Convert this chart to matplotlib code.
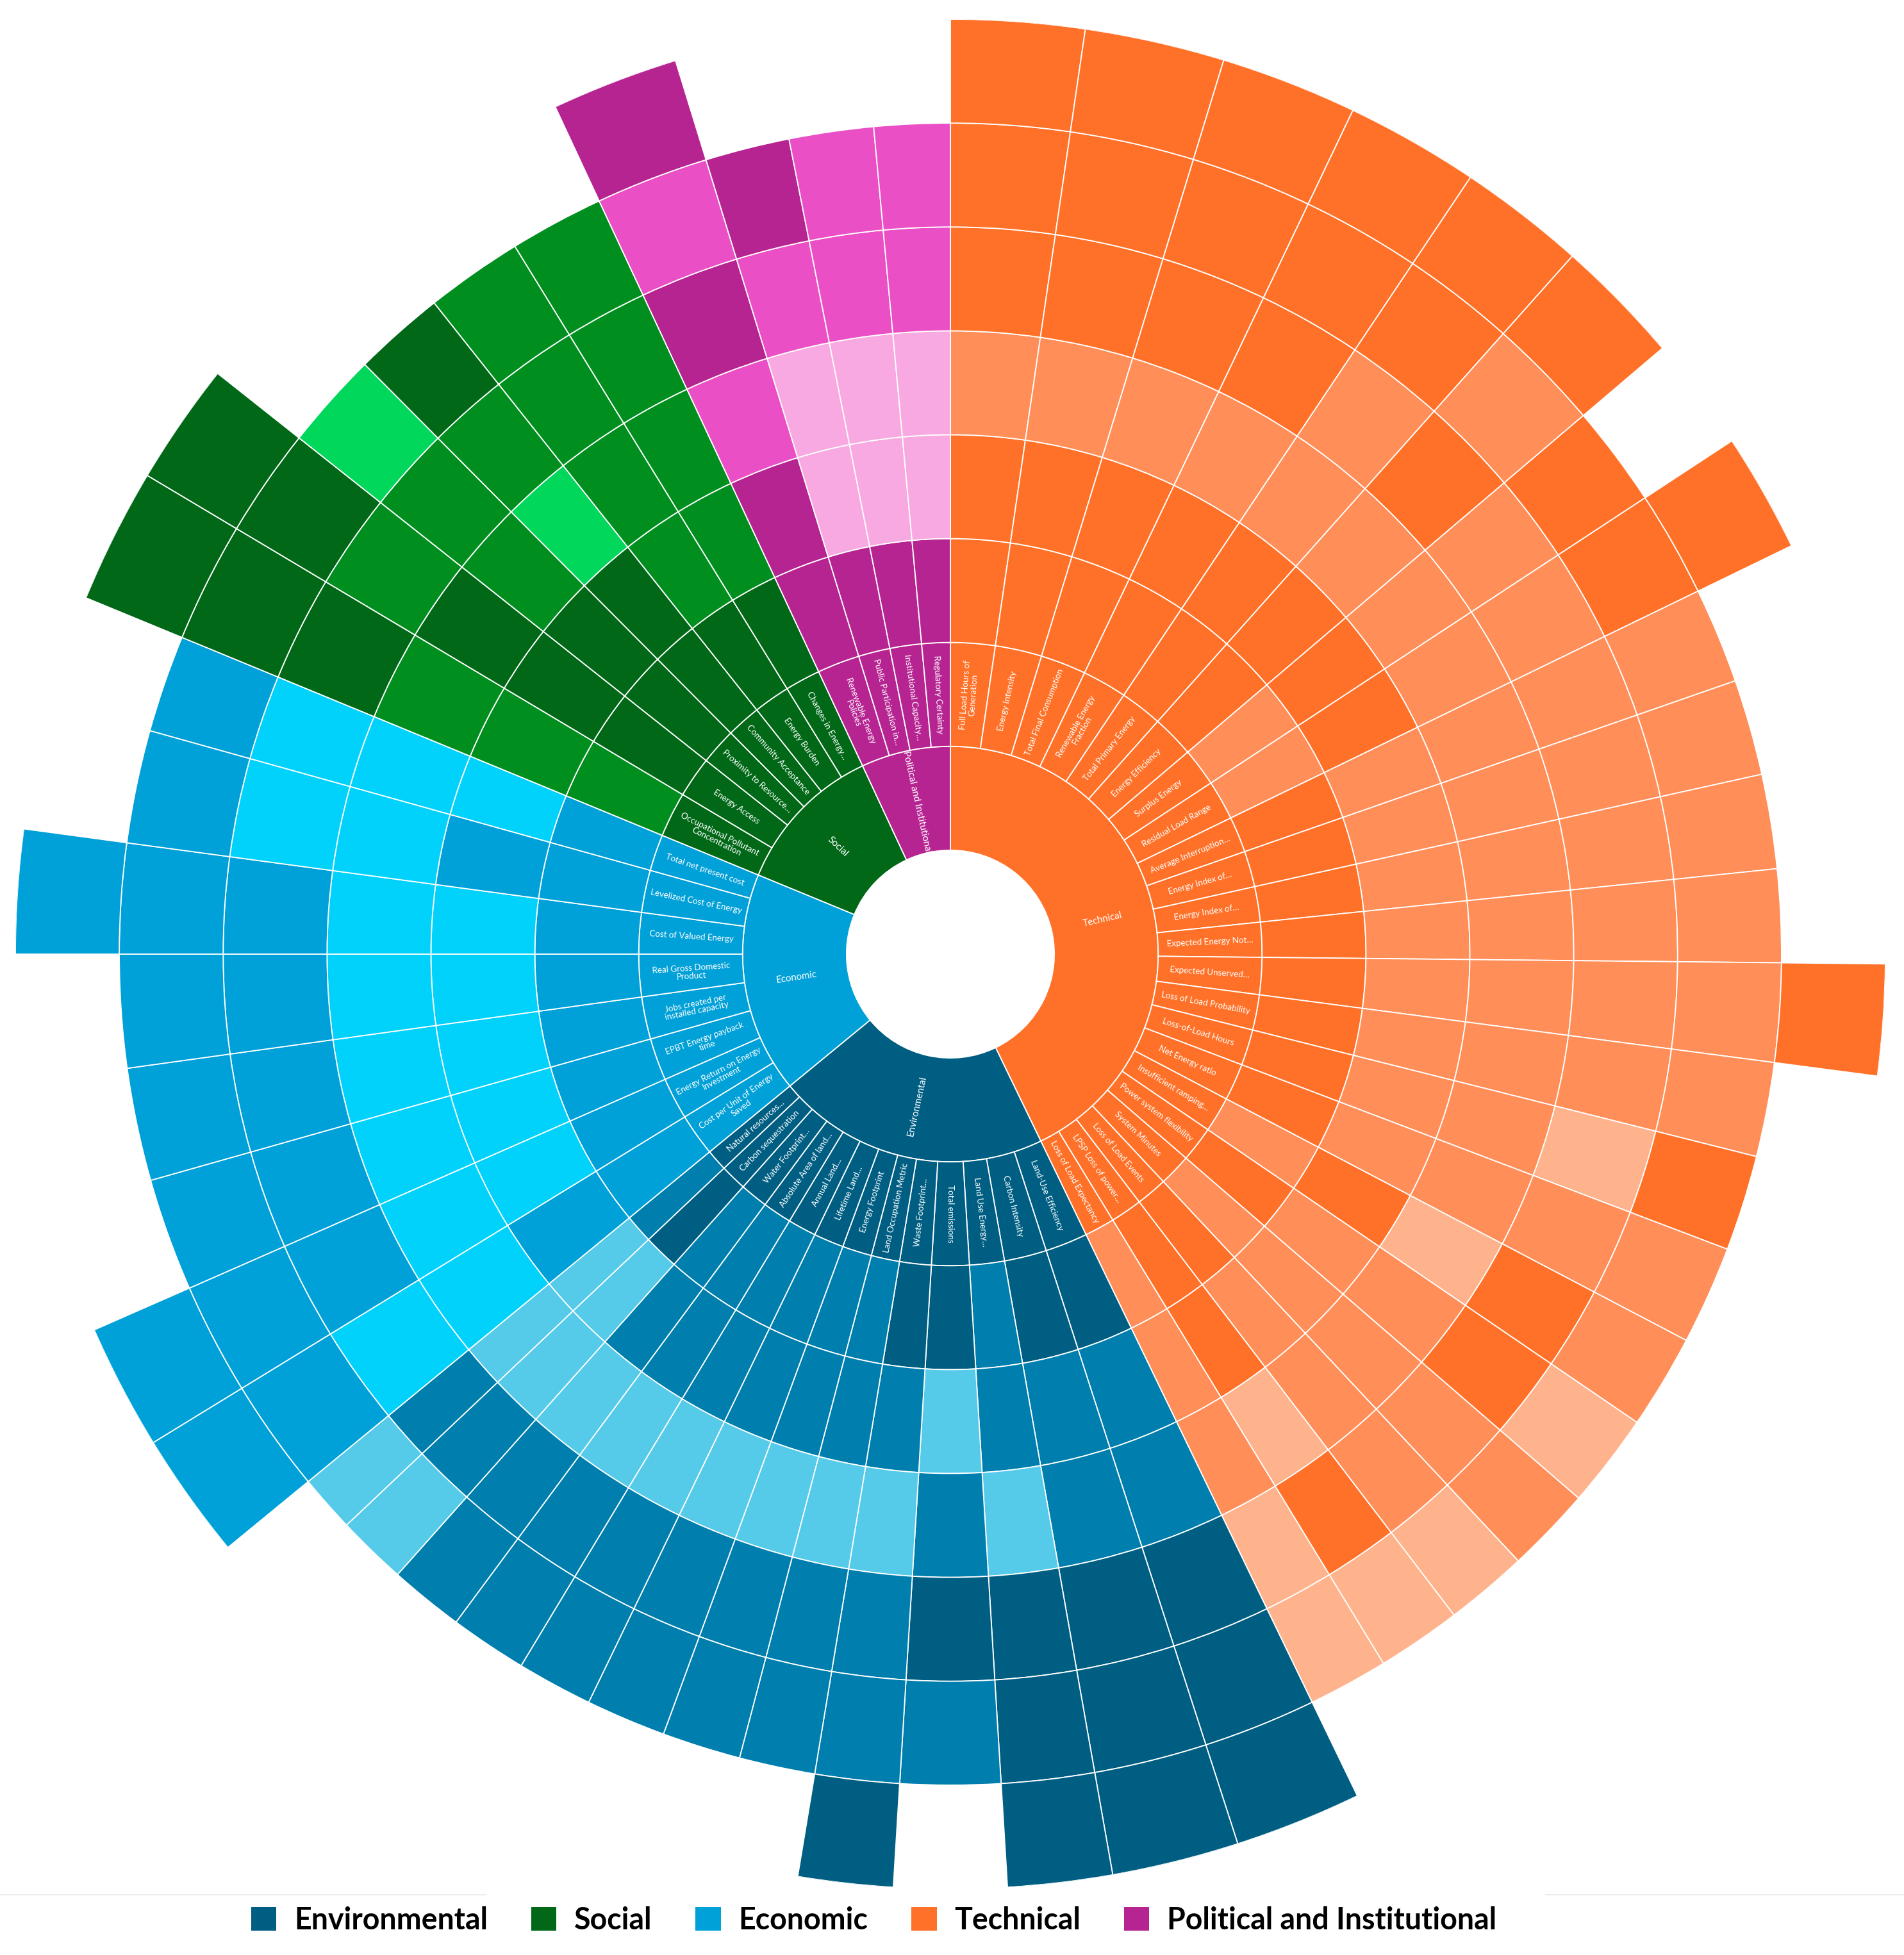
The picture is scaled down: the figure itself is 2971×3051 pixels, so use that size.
import numpy as np
import matplotlib.pyplot as plt
from matplotlib.patches import Patch
from matplotlib.lines import Line2D

plt.rcParams['font.family'] = ['Lato', 'DejaVu Sans']

# indicators are listed clockwise from 12 o'clock
# widths = angular size of each indicator (degrees)
# rings = shade of each outer ring, inner -> outer (D dark, M mid, L light, C cyan)
tech_names = ['Full Load Hours of\nGeneration', 'Energy Intensity', 'Total Final Consumption',
              'Renewable Energy\nFraction', 'Total Primary Energy', 'Energy Efficiency',
              'Surplus Energy', 'Residual Load Range', 'Average Interruption…',
              'Energy Index of…', 'Energy Index of…', 'Expected Energy Not…',
              'Expected Unserved…', 'Loss of Load Probability', 'Loss-of-Load Hours',
              'Net Energy ratio', 'Insufficient ramping…', 'Power system flexibility',
              'System Minutes', 'Loss of Load Events', 'LPSP Loss of power…',
              'Loss of Load Expectancy']
tech_widths = [8.3, 8.7, 8.5, 8.3, 7.9, 7.9, 7.1, 7.4, 6.7, 6.7, 6.6,
               6.5, 6.9, 6.6, 6.7, 6.9, 6.6, 6.6, 6.0, 5.8, 5.9, 5.6]
tech_rings = ['DDMDDD', 'DDMDDD', 'DDMDDD', 'DDMDDD', 'DDMMDD', 'DDMDMD',
              'MDMMD', 'MDMMDD', 'DMMMM', 'DMMMM', 'DMMMM', 'DMMMM',
              'DMMMMD', 'DMMMM', 'DMMLD', 'DMMMM', 'MDLDM', 'DMMDL',
              'MMMMM', 'DMMML', 'DDLDL', 'MMMLL']

env_names = ['Land-Use Efficiency', 'Carbon Intensity', 'Land Use Energy…', 'Total emissions',
             'Waste Footprint…', 'Land Occupation Metric', 'Energy Footprint',
             'Lifetime Land…', 'Annual Land…', 'Absolute Area of land…',
             'Water Footprint…', 'Carbon sequestration', 'Natural resources…']
env_widths = [7.9, 7.9, 6.5, 7.0, 5.9, 5.3, 5.5, 5.6, 5.3, 5.4, 5.2, 4.9, 4.0]
env_rings = ['DMMDDD', 'DMMDDD', 'MMLDDD', 'DLMDM', 'DMLMMD', 'MMLMM', 'MMLMM',
             'MMLMM', 'MMLMM', 'MMLMM', 'MMLMM', 'DLLML', 'MLLML']

econ_names = ['Cost per Unit of Energy\nSaved', 'Energy Return on Energy\nInvestment',
              'EPBT Energy payback\ntime', 'Jobs created per\ninstalled capacity',
              'Real Gross Domestic\nProduct', 'Cost of Valued Energy',
              'Levelized Cost of Energy', 'Total net present cost']
econ_widths = [7.9, 7.8, 7.9, 7.9, 7.9, 7.7, 7.9, 6.8]
econ_rings = ['MMCCMM', 'MCCMMM', 'MCCMM', 'MCCMM', 'MCCMM', 'MCCMMM', 'MMCCM', 'MCCCM']

soc_names = ['Occupational Pollutant\nConcentration', 'Energy Access',
             'Proximity to Resource…', 'Community Acceptance', 'Energy Burden',
             'Changes in Energy…']
soc_widths = [8.4, 7.6, 6.8, 6.4, 6.8, 6.6]
soc_rings = ['MMMDDD', 'DDDMDD', 'DDMML', 'DDLMD', 'DMMMM', 'DMMMM']

pol_names = ['Renewable Energy\nPolicies', 'Public Participation in…',
             'Institutional Capacity…', 'Regulatory Certainty']
pol_widths = [7.9, 5.9, 5.9, 5.3]
pol_rings = ['DDMDMD', 'DLLMD', 'DLLMM', 'DLLMM']

shades = {
    'Technical': {'D': '#FF7128', 'M': '#FF8E58', 'L': '#FFB38C'},
    'Environmental': {'D': '#005E83', 'M': '#007EAD', 'L': '#55CAE9'},
    'Economic': {'M': '#00A0D8', 'C': '#00D2FC'},
    'Social': {'D': '#006816', 'M': '#008F1F', 'L': '#00D75B'},
    'Political and Institutional': {'D': '#B62492', 'M': '#EB4FC6', 'L': '#F8A9E1'},
}
base_shade = {'Technical': 'D', 'Environmental': 'D', 'Economic': 'M',
              'Social': 'D', 'Political and Institutional': 'D'}

categories = [
    ('Technical', tech_names, tech_widths, tech_rings),
    ('Environmental', env_names, env_widths, env_rings),
    ('Economic', econ_names, econ_widths, econ_rings),
    ('Social', soc_names, soc_widths, soc_rings),
    ('Political and Institutional', pol_names, pol_widths, pol_rings),
]
legend_order = ['Environmental', 'Social', 'Economic', 'Technical', 'Political and Institutional']


def text_rot(deg):
    # radial text, flipped on the left half so it stays readable
    return 90 - deg if deg <= 180.5 else 270 - deg


fig = plt.figure(figsize=(29.71, 30.51), dpi=100)
ax = fig.add_axes([0.00808, 0.03376, 0.98216, 0.95641], projection='polar')
ax.set_theta_zero_location('N')
ax.set_theta_direction(-1)
ax.set_ylim(0, 9)
ax.axis('off')

lw = 1.3
start = 0.0
for cat, names, widths, rings in categories:
    col = shades[cat][base_shade[cat]]
    total = sum(widths)
    mid = start + total / 2
    ax.bar(np.radians(mid), 1, width=np.radians(total), bottom=1, color=col,
           edgecolor='white', linewidth=lw)
    ax.text(np.radians(mid), 1.5, cat, rotation=text_rot(mid), rotation_mode='anchor',
            ha='center', va='center', color='white', fontsize=10.8)
    for name, w, codes in zip(names, widths, rings):
        c = start + w / 2
        ax.bar(np.radians(c), 1, width=np.radians(w), bottom=2, color=col,
               edgecolor='white', linewidth=lw)
        ax.text(np.radians(c), 2.5, name, rotation=text_rot(c), rotation_mode='anchor',
                ha='center', va='center', color='white', fontsize=9.6,
                linespacing=1.0, multialignment='center')
        for k, code in enumerate(codes):
            ax.bar(np.radians(c), 1, width=np.radians(w), bottom=3 + k,
                   color=shades[cat][code], edgecolor='white', linewidth=lw)
        start += w

handles = [Patch(facecolor=shades[c][base_shade[c]], edgecolor='none') for c in legend_order]
fig.legend(handles, legend_order, loc='center', bbox_to_anchor=(0.459, 0.0177), ncol=5,
           frameon=False, prop={'weight': 'bold', 'size': 33.5},
           handlelength=0.85, handleheight=0.85, handletextpad=0.6, columnspacing=1.45)

for x0, x1 in [(0.0, 0.255), (0.812, 1.0)]:
    fig.add_artist(Line2D([x0, x1], [0.0308, 0.0308], transform=fig.transFigure,
                          color='#ECECEC', lw=1.5))

fig.savefig('out.png', dpi=100, facecolor='white')
